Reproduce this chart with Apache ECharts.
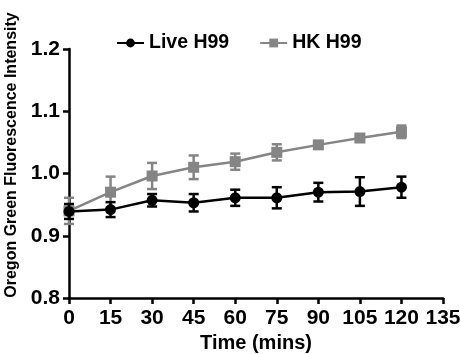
<!DOCTYPE html>
<html>
<head>
<meta charset="utf-8">
<script src="https://cdn.jsdelivr.net/npm/echarts@6/dist/echarts.min.js"></script>
<style>
  html, body { margin: 0; padding: 0; background: #fff; }
  #chart { width: 460px; height: 354px; }
</style>
</head>
<body>
<div id="chart"></div>
<script>
const times = [0, 15, 30, 45, 60, 75, 90, 105, 120];
const liveMean = [0.939, 0.942, 0.957, 0.953, 0.961, 0.961, 0.970, 0.971, 0.978];
const liveErr  = [0.012, 0.012, 0.010, 0.014, 0.013, 0.017, 0.015, 0.023, 0.017];
const hkMean   = [0.940, 0.970, 0.996, 1.010, 1.019, 1.034, 1.046, 1.057, 1.067];
const hkErr    = [0.021, 0.025, 0.021, 0.019, 0.013, 0.013, 0.004, 0.004, 0.010];
const xTicks = { min: 0, max: 135, interval: 15 };
const yTicks = { min: 0.8, max: 1.2, interval: 0.1 };
const yTitle = 'Oregon Green Fluorescence Intensity';

const FONT = 'Arial, "Liberation Sans", sans-serif';
const GRAY = '#858585';

// error bars drawn as custom series: vertical line + caps
function errorSeries(name, mean, err, color, z) {
  return {
    name: name,
    type: 'custom',
    z: z,
    data: times.map((t, i) => [t, mean[i] - err[i], mean[i] + err[i]]),
    renderItem: (params, api) => {
      const lo = api.coord([api.value(0), api.value(1)]);
      const hi = api.coord([api.value(0), api.value(2)]);
      const w = 5;
      const style = { stroke: color, lineWidth: 2.5 };
      return {
        type: 'group',
        children: [
          { type: 'line', shape: { x1: lo[0], y1: lo[1], x2: hi[0], y2: hi[1] }, style },
          { type: 'line', shape: { x1: lo[0] - w, y1: lo[1], x2: lo[0] + w, y2: lo[1] }, style },
          { type: 'line', shape: { x1: hi[0] - w, y1: hi[1], x2: hi[0] + w, y2: hi[1] }, style },
        ],
      };
    },
    silent: true,
  };
}

const chart = echarts.init(document.getElementById('chart'), null, { renderer: 'canvas' });
chart.setOption({
  animation: false,
  grid: { left: 69, right: 17, top: 49, bottom: 56, containLabel: false, outerBoundsMode: 'none' },
  // y title sits a bit above the plot centre in the reference, so place it directly
  graphic: [{
    type: 'text',
    x: 12,
    y: 155,
    rotation: Math.PI / 2,
    style: {
      text: yTitle,
      fill: '#000',
      font: 'bold 16px ' + FONT,
      textAlign: 'center',
      textVerticalAlign: 'middle',
    },
  }],
  legend: {
    data: ['Live H99', 'HK H99'],
    top: 28,
    left: 111,
    itemWidth: 27,
    itemHeight: 11,
    itemGap: 30,
    textStyle: { color: '#000', fontFamily: FONT, fontWeight: 'bold', fontSize: 19.5 },
  },
  xAxis: {
    type: 'value',
    min: xTicks.min, max: xTicks.max, interval: xTicks.interval,
    name: 'Time (mins)',
    nameLocation: 'middle',
    nameGap: 29,
    nameTextStyle: { color: '#000', fontFamily: FONT, fontWeight: 'bold', fontSize: 20 },
    axisLine: { lineStyle: { color: '#000', width: 2.5 } },
    axisTick: { length: 6, lineStyle: { color: '#000', width: 2.5 } },
    axisLabel: { color: '#000', fontFamily: FONT, fontWeight: 'bold', fontSize: 21, margin: 10 },
    splitLine: { show: false },
  },
  yAxis: {
    type: 'value',
    min: yTicks.min, max: yTicks.max, interval: yTicks.interval,
    axisLine: { show: true, lineStyle: { color: '#000', width: 2.5 } },
    axisTick: { show: true, length: 6, lineStyle: { color: '#000', width: 2.5 } },
    axisLabel: {
      color: '#000', fontFamily: FONT, fontWeight: 'bold', fontSize: 21, margin: 9,
      formatter: v => v.toFixed(1),
    },
    splitLine: { show: false },
  },
  series: [
    errorSeries('HK H99 error', hkMean, hkErr, GRAY, 2),
    {
      name: 'HK H99',
      type: 'line',
      z: 3,
      data: times.map((t, i) => [t, hkMean[i]]),
      symbol: 'rect',
      symbolSize: 11,
      itemStyle: { color: GRAY },
      lineStyle: { color: GRAY, width: 2.5 },
    },
    errorSeries('Live H99 error', liveMean, liveErr, '#000', 4),
    {
      name: 'Live H99',
      type: 'line',
      z: 5,
      data: times.map((t, i) => [t, liveMean[i]]),
      symbol: 'circle',
      symbolSize: 11,
      itemStyle: { color: '#000' },
      lineStyle: { color: '#000', width: 2.5 },
    },
  ],
});
</script>
</body>
</html>
